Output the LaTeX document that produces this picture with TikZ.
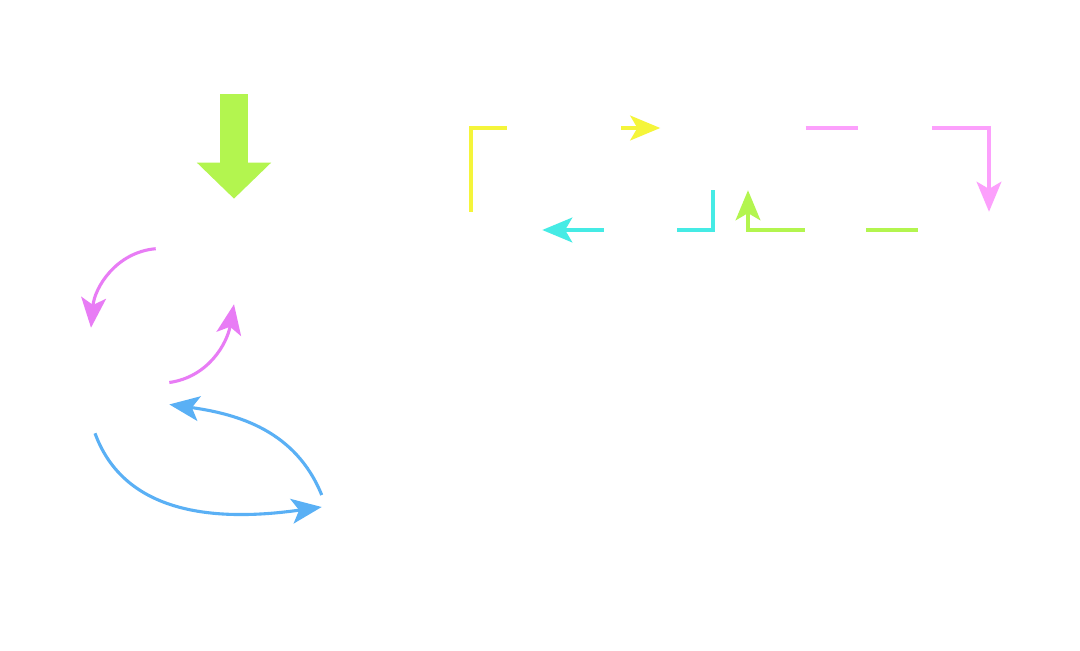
\documentclass[tikz,border=0pt]{standalone}
\usepackage{tikz}
\usetikzlibrary{arrows.meta, positioning}
\usepackage{xcolor}

\definecolor{limegreen}{HTML}{B3F54F}
\definecolor{orchid}{HTML}{E87CF5}
\definecolor{skyblue}{HTML}{5AB0F5}
\definecolor{lemon}{HTML}{F5F53A}
\definecolor{candy}{HTML}{FCA0FC}
\definecolor{aqua}{HTML}{45EBE5}

\begin{document}
\begin{tikzpicture}[
    x=0.025cm, y=-0.025cm,
    hidden node/.style={minimum width=3.9cm, minimum height=2.625cm, inner sep=0pt},
    flat node/.style={minimum width=3.55cm, minimum height=0.9cm, inner sep=0pt},
    tall node/.style={minimum width=3.625cm, minimum height=3.1cm, inner sep=0pt},
    flow/.style={line width=2.2pt, -{Stealth[length=0.75cm, width=0.62cm, inset=0.18cm]}},
    gap/.style={fill=white, inner sep=0pt, minimum height=0.4cm}
]
    \fill[white] (0,0) rectangle (1080,651);

    % Nodes
    \coordinate (start) at (234,94);
    \node[hidden node] (A) at (234,251.5) {};
    \node[hidden node] (B) at (91,380.5) {};
    \node[hidden node] (C) at (400,501) {};
    \node[flat node] (D) at (471,230) {};
    \node[tall node] (E) at (733,128) {};
    \node[flat node] (F) at (989,230) {};

    % Edges
    \draw[limegreen, line width=0.7cm, -{Triangle[length=0.9cm, width=1.8cm]}] (start) -- (A.north);
    \draw[flow, orchid] ([yshift=0.07cm]A.west) to[out=185, in=85] (B.north);
    \draw[flow, orchid] ([yshift=-0.05cm]B.east) to[out=8, in=-100] (A.south);
    \draw[flow, skyblue] ([xshift=0.1cm]B.south) to[out=-70, in=188] ([yshift=-0.15cm]C.west);
    \draw[flow, skyblue] ([yshift=0.15cm]C.west) to[out=112, in=-8] (B.-17);

    \draw[flow, lemon] (D.north) |- node[gap, pos=0.747, minimum width=2.85cm] {} (E.west);
    \draw[flow, candy] (E.east) -| node[gap, pos=0.243, minimum width=1.85cm] {} (F.north);
    \draw[flow, limegreen] (F.west) -| node[gap, pos=0.243, minimum width=1.525cm] {} ([xshift=0.375cm]E.south);
    \draw[flow, aqua] ([xshift=-0.5cm]E.south) |- node[gap, pos=0.713, minimum width=1.825cm] {} (D.east);
\end{tikzpicture}
\end{document}
